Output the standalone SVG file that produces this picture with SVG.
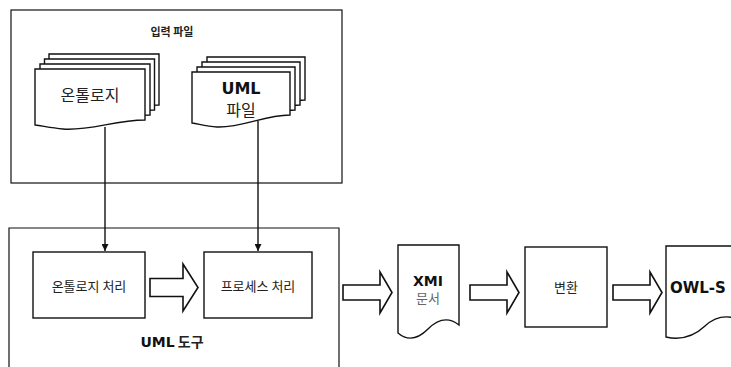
<svg xmlns="http://www.w3.org/2000/svg" width="731" height="367" viewBox="0 0 731 367">
<defs>
<style>
.frame{fill:none;stroke:#111;stroke-width:1.2}
.shape{fill:#fff;stroke:#111;stroke-width:1.4}
.conn{fill:none;stroke:#111;stroke-width:1.4}
.blk{fill:#fff;stroke:#111;stroke-width:1.6;stroke-linejoin:miter}
.kr{font-family:"Noto Sans CJK KR","Noto Sans",sans-serif;fill:#222}
.lat{font-family:"DejaVu Sans","Noto Sans CJK KR",sans-serif;font-weight:bold;fill:#111}
</style>
<marker id="ah" viewBox="0 0 10 10" refX="10" refY="5" markerWidth="7" markerHeight="7" markerUnits="userSpaceOnUse" orient="auto">
<path d="M0,0 L10,5 L0,10 Z" fill="#111"/>
</marker>
<path id="doc1" d="M0,0 H110 V51 C80,51 55,62 28,60 C16,59 8,57 0,56 Z"/>
<path id="doc2" d="M0,0 H98 V43 C72,43 50,56 25,55 C14,54.5 7,52 0,51 Z"/>
<path id="blockArrow" d="M0,-7.5 H37 V-20.5 L49,0 L37,20.5 V7.5 H0 Z"/>
</defs>
<rect width="731" height="367" fill="#fff"/>

<g id="input-files">
<rect class="frame" x="11" y="10" width="331" height="173"/>
<text class="kr" x="172" y="36" font-size="11" font-weight="bold" text-anchor="middle">입력 파일</text>
</g>

<g id="ontology-files">
<use href="#doc1" class="shape" transform="translate(49,54)"/>
<use href="#doc1" class="shape" transform="translate(44.5,59)"/>
<use href="#doc1" class="shape" transform="translate(40,64)"/>
<use href="#doc1" class="shape" transform="translate(35,69)"/>
<text class="kr" x="90" y="101" font-size="16" text-anchor="middle">온톨로지</text>
</g>

<g id="uml-files">
<use href="#doc2" class="shape" transform="translate(207,57)"/>
<use href="#doc2" class="shape" transform="translate(202,62)"/>
<use href="#doc2" class="shape" transform="translate(197,67)"/>
<use href="#doc2" class="shape" transform="translate(192,72)"/>
<text class="lat" x="241" y="94" font-size="16" text-anchor="middle">UML</text>
<text class="kr" x="241" y="116" font-size="16" text-anchor="middle">파일</text>
</g>

<g id="uml-tool">
<path class="frame" d="M9,380 V228 H339 V380"/>
<text x="172" y="347" font-size="14" text-anchor="middle"><tspan class="lat">UML</tspan><tspan class="kr" font-weight="bold"> 도구</tspan></text>
</g>

<g id="ontology-process">
<rect class="shape" x="33" y="252" width="112" height="66"/>
<text class="kr" x="89" y="291" font-size="13" text-anchor="middle">온톨로지 처리</text>
</g>

<g id="process-process">
<rect class="shape" x="204" y="252" width="108" height="66"/>
<text class="kr" x="258" y="291" font-size="13" text-anchor="middle">프로세스 처리</text>
</g>

<g id="xmi-doc">
<path class="shape" d="M398,245 H459 V325 Q444,313 428,329 T398,333 Z"/>
<text class="lat" x="428" y="286" font-size="14" text-anchor="middle">XMI</text>
<text class="kr" x="428" y="303" font-size="13" text-anchor="middle" style="fill:#666">문서</text>
</g>

<g id="transform">
<rect class="shape" x="525" y="247" width="82" height="80"/>
<text class="kr" x="566" y="292" font-size="13" text-anchor="middle">변환</text>
</g>

<g id="owl-s-doc">
<path class="shape" d="M666,246 H745 V322 Q722,310 705,326 T666,337 Z"/>
<text class="lat" x="670" y="293" font-size="15">OWL-S</text>
</g>

<g id="connectors">
<line class="conn" x1="105" y1="127" x2="105" y2="251" marker-end="url(#ah)"/>
<line class="conn" x1="258" y1="121" x2="258" y2="251" marker-end="url(#ah)"/>
<path class="blk" d="M150,278.5 H183 V264 L198,287.5 L183,311 V296.5 H150 Z"/>
<use href="#blockArrow" class="blk" transform="translate(343,292.5)"/>
<use href="#blockArrow" class="blk" transform="translate(470,292.5)"/>
<use href="#blockArrow" class="blk" transform="translate(613,292.5)"/>
</g>
</svg>
